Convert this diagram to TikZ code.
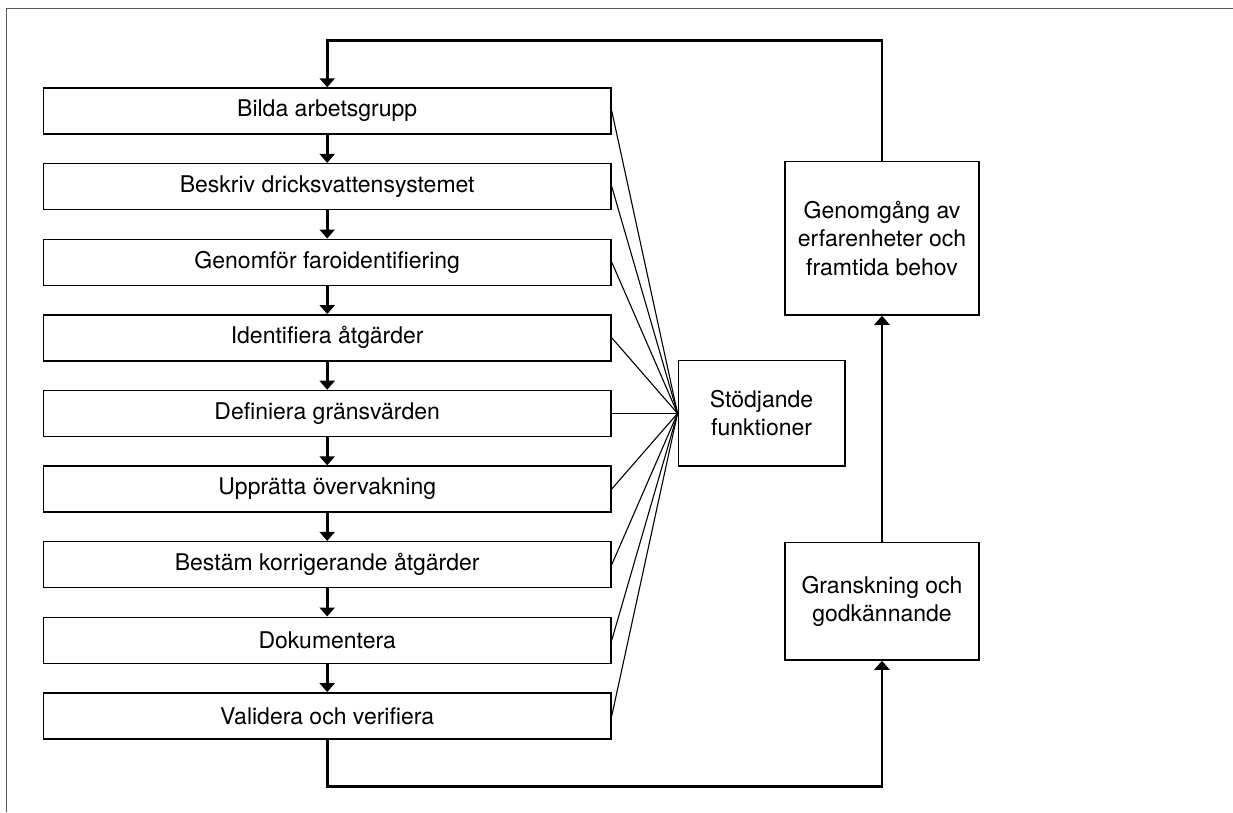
\documentclass[tikz,border=0pt]{standalone}
\usepackage{fontspec}
\setmainfont{TeX Gyre Heros}
\usetikzlibrary{arrows.meta}
\begin{document}
\begin{tikzpicture}[x=1pt,y=-1pt,
  txt/.style={font=\fontsize{23}{28.3}\selectfont},
  stepbox/.style={draw, line width=1.4pt, minimum width=567.7pt, minimum height=46pt, inner sep=0pt, txt},
  sidebox/.style={draw, line width=1.4pt, inner sep=0pt, align=center, txt},
  flow/.style={line width=2.6pt, -{Triangle[width=15pt,length=9pt]}},
  link/.style={line width=1.1pt}]

\useasboundingbox (0,0) rectangle (1233,812);

% page frame (open to the right and bottom)
\draw[line width=1.6pt, black!65] (1233,8.5) -- (6.5,8.5) -- (6.5,812);

% main sequence of steps
\node[stepbox] (s1) at (327.2,111.0) {Bilda arbetsgrupp};
\node[stepbox] (s2) at (327.2,186.6) {Beskriv dricksvattensystemet};
\node[stepbox] (s3) at (327.2,262.2) {Genomför faroidentifiering};
\node[stepbox] (s4) at (327.2,337.8) {Identifiera åtgärder};
\node[stepbox] (s5) at (327.2,413.4) {Definiera gränsvärden};
\node[stepbox] (s6) at (327.2,489.0) {Upprätta övervakning};
\node[stepbox] (s7) at (327.2,564.6) {Bestäm korrigerande åtgärder};
\node[stepbox] (s8) at (327.2,640.2) {Dokumentera};
\node[stepbox] (s9) at (327.2,715.8) {Validera och verifiera};

% side boxes
\node[sidebox, minimum width=166.7pt, minimum height=105.3pt] (stod) at (761.6,413.4)
  {Stödjande\\funktioner};
\node[sidebox, minimum width=194pt, minimum height=153.3pt] (gen) at (882,238.4)
  {Genomgång av\\erfarenheter och\\framtida behov};
\node[sidebox, minimum width=194pt, minimum height=117.7pt] (gran) at (882,601.2)
  {Granskning och\\godkännande};

% arrows between consecutive steps
\foreach \a/\b in {1/2,2/3,3/4,4/5,5/6,6/7,7/8,8/9}
  \draw[flow] (s\a.south) -- (s\b.north);

% every step is linked to the supporting functions
\foreach \i in {1,...,9}
  \draw[link] (s\i.east) -- (stod.west);

% review loop
\coordinate (tl) at (327.2,40.7);
\coordinate (tr) at (882,40.7);
\coordinate (bl) at (327.2,786.7);
\coordinate (br) at (882,786.7);
\draw[flow] (s9.south) -- (bl) -- (br) -- (gran.south);
\draw[flow] (gran.north) -- (gen.south);
\draw[flow] (gen.north) -- (tr) -- (tl) -- (s1.north);
\end{tikzpicture}
\end{document}
